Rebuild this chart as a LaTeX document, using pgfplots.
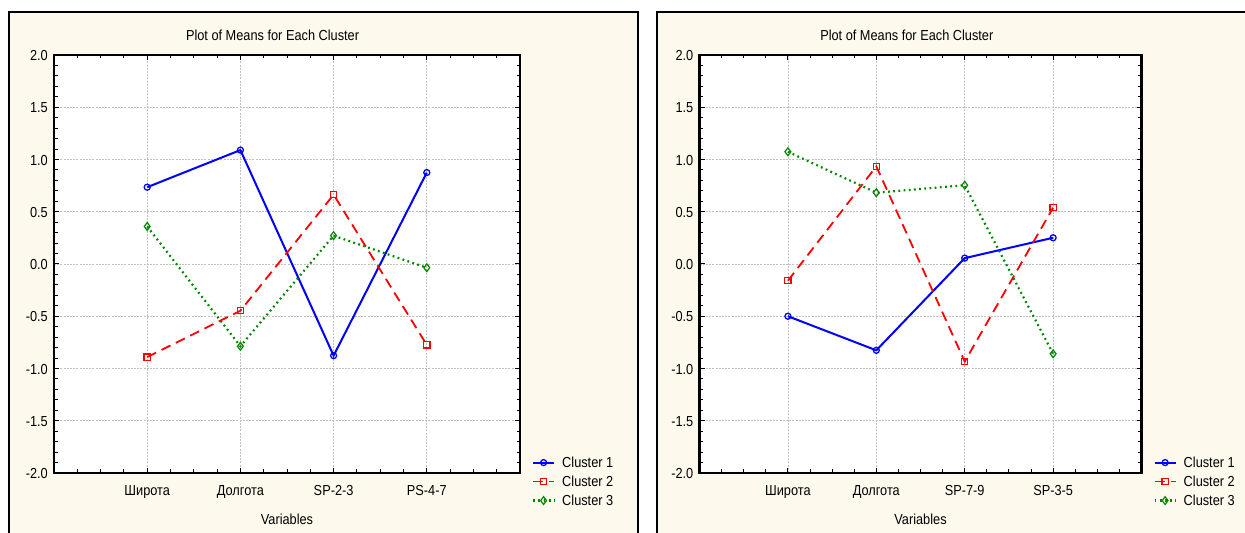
\documentclass[border=0pt]{standalone}
\usepackage{pgfplots}
\pgfplotsset{compat=1.18}
\usepackage{fontspec}
\setmainfont{Liberation Sans}[FakeStretch=0.88]
\definecolor{cream}{RGB}{253,249,237}
\definecolor{cA}{RGB}{0,0,255}
\definecolor{cB}{RGB}{255,0,0}
\definecolor{cC}{RGB}{0,135,0}
\newcommand{\ff}{\fontsize{14.5bp}{17bp}\selectfont}
\pgfplotsset{
  meansplot/.style={
    scale only axis,
    height=418bp,
    xmin=0, xmax=5, ymin=-2, ymax=2,
    axis background/.style={fill=white},
    xtick={1,2,3,4},
    minor xtick={0.25,0.5,0.75,1.25,1.5,1.75,2.25,2.5,2.75,3.25,3.5,3.75,4.25,4.5,4.75},
    ytick={-2,-1.5,-1,-0.5,0,0.5,1,1.5,2},
    yticklabels={-2.0,-1.5,-1.0,-0.5,0.0,0.5,1.0,1.5,2.0},
    minor y tick num=4,
    tick align=inside,
    major tick length=5bp, minor tick length=3.5bp,
    every tick/.style={black, line width=1bp},
    axis line style={line width=2.2bp},
    grid=major,
    major grid style={black!25, line width=0.8bp, dash pattern=on 2bp off 1.2bp},
    xticklabel style={font=\ff, inner sep=0pt, anchor=base, yshift=-23bp},
    yticklabel style={font=\ff, inner sep=0pt, anchor=base east, xshift=-6bp, yshift=-5.6bp},
    title style={font=\ff, inner sep=0pt, at={(axis description cs:0.469,1)}, anchor=base, yshift=9bp},
    title={Plot of Means for Each Cluster},
    xlabel style={font=\ff, inner sep=0pt, at={(axis description cs:0.5,0)}, anchor=base, yshift=-52bp},
    xlabel={Variables},
    legend style={font=\ff, at={(axis description cs:1,0)}, anchor=north west,
      xshift=12bp, yshift=15.6bp, draw=none, fill=none, inner sep=0pt, outer sep=0pt,
      row sep=8.6bp, column sep=7bp,
      nodes={inner sep=0pt, text height=10.4bp, text depth=0pt}},
    legend cell align=left,
    legend image code/.code={\draw[mark repeat=2,mark phase=2] plot coordinates {(0bp,0bp) (10.5bp,0bp) (21bp,0bp)};},
  },
  s1/.style={cA, line width=2bp, mark=o, mark size=3bp, mark options={solid, fill=white, line width=1.3bp}},
  s2/.style={cB, line width=1.8bp, dash pattern=on 10bp off 6bp, mark=square, mark size=3.1bp, mark options={solid, fill=white, line width=1.3bp}},
  s3/.style={cC, line width=2.2bp, dash pattern=on 1.8bp off 3.4bp, mark=diamond, mark size=3.9bp, mark options={solid, fill=white, line width=1.2bp}},
}
\begin{document}
\begin{tikzpicture}[x=1bp,y=1bp]
\useasboundingbox (0,0) rectangle (1245,533);
\fill[white] (0,0) rectangle (1245,533);
\filldraw[fill=cream, draw=black, line width=1.8bp] (9,-20) rectangle (638,521);
\filldraw[fill=cream, draw=black, line width=1.8bp] (657,-20) rectangle (1270,521);

\begin{axis}[meansplot, at={(54bp,60bp)}, anchor=south west, width=466bp,
  xticklabels={Широта,Долгота,SP-2-3,PS-4-7}]
\addplot[s1] coordinates {(1,0.735) (2,1.090) (3,-0.877) (4,0.875)};
\addplot[s2] coordinates {(1,-0.891) (2,-0.447) (3,0.663) (4,-0.774)};
\addplot[s3] coordinates {(1,0.359) (2,-0.787) (3,0.271) (4,-0.036)};
\legend{Cluster 1,Cluster 2,Cluster 3}
\end{axis}

\begin{axis}[meansplot, at={(699.5bp,60bp)}, anchor=south west, width=442bp,
  xticklabels={Широта,Долгота,SP-7-9,SP-3-5}]
\addplot[s1] coordinates {(1,-0.500) (2,-0.826) (3,0.056) (4,0.251)};
\addplot[s2] coordinates {(1,-0.160) (2,0.934) (3,-0.934) (4,0.539)};
\addplot[s3] coordinates {(1,1.074) (2,0.682) (3,0.754) (4,-0.859)};
\legend{Cluster 1,Cluster 2,Cluster 3}
\end{axis}
\end{tikzpicture}
\end{document}
